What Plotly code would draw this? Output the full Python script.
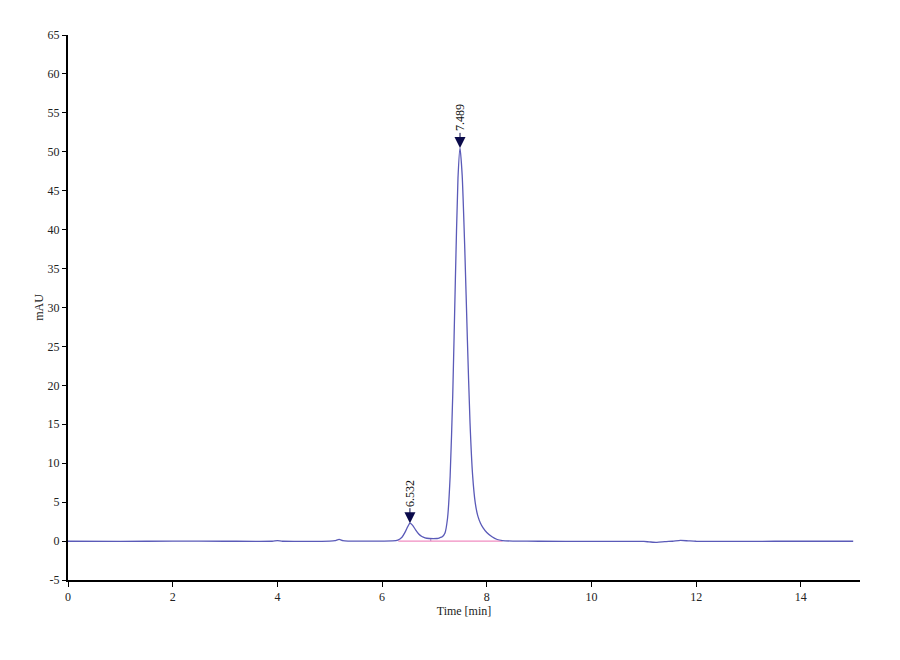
import plotly.graph_objects as go

# Chromatogram trace (time in min, absorbance in mAU)
time_min = [0.0, 1.0, 2.0, 3.0, 3.9, 4.0, 4.1, 5.0, 5.1, 5.18, 5.25, 5.35, 6.0, 6.2,
            6.30, 6.38, 6.44, 6.49, 6.532, 6.58, 6.64, 6.70, 6.76, 6.82, 6.90, 6.98,
            7.05, 7.10, 7.15, 7.20, 7.25, 7.30, 7.35, 7.40, 7.45, 7.489, 7.53, 7.58,
            7.63, 7.68, 7.73, 7.78, 7.83, 7.88, 7.93, 8.00, 8.10, 8.20, 8.30, 8.50,
            9.0, 10.0, 11.0, 11.1, 11.25, 11.4, 11.55, 11.7, 11.85, 12.0, 13.0, 14.0, 15.0]
absorbance = [-0.02, -0.03, -0.01, -0.02, -0.02, 0.05, -0.02, 0.0, 0.05, 0.22, 0.06, 0.0, 0.0, 0.02,
              0.12, 0.5, 1.15, 1.85, 2.3, 2.05, 1.45, 0.9, 0.58, 0.42, 0.33, 0.31,
              0.33, 0.42, 0.55, 1.0, 2.9, 8.3, 18.8, 33.5, 46.6, 50.5, 47.0, 37.5,
              25.8, 15.2, 8.4, 4.9, 3.2, 2.3, 1.7, 1.1, 0.55, 0.2, 0.06, 0.0,
              -0.02, -0.03, -0.05, -0.1, -0.17, -0.08, -0.02, 0.08, 0.03, -0.02, -0.03, -0.02, -0.02]

# Integration baseline and valley drop mark
baseline_x = [6.31, 8.30]
baseline_y = [0.0, 0.0]
valley_x = [6.93, 6.93]
valley_y = [0.0, 0.33]

# Labelled peaks
peak_times = [6.532, 7.489]
peak_heights = [2.3, 50.5]
peak_labels = ["6.532", "7.489"]

# Axis ticks
x_tick_vals = [0, 2, 4, 6, 8, 10, 12, 14]
x_tick_text = ["0", "2", "4", "6", "8", "10", "12", "14"]
y_tick_vals = [-5, 0, 5, 10, 15, 20, 25, 30, 35, 40, 45, 50, 55, 60, 65]
y_tick_text = ["-5", "0", "5", "10", "15", "20", "25", "30", "35", "40", "45", "50", "55", "60", "65"]

fig = go.Figure()
fig.add_trace(go.Scatter(x=baseline_x, y=baseline_y, mode="lines",
                         line=dict(color="#f08cc0", width=1.2), hoverinfo="skip"))
fig.add_trace(go.Scatter(x=valley_x, y=valley_y, mode="lines",
                         line=dict(color="#c080c0", width=1), hoverinfo="skip"))
fig.add_trace(go.Scatter(x=time_min, y=absorbance, mode="lines",
                         line=dict(color="#5a5ab8", width=1.3, shape="spline", smoothing=0.6)))

for px, py, lab in zip(peak_times, peak_heights, peak_labels):
    fig.add_annotation(x=px, y=py, text=lab, textangle=-90, showarrow=True,
                       arrowhead=2, arrowsize=2.2, arrowwidth=1, arrowcolor="#0a0a4a",
                       standoff=0, ax=0, ay=-30,
                       font=dict(family="Liberation Serif", size=12, color="#111"))

fig.update_layout(
    width=900, height=660,
    paper_bgcolor="white", plot_bgcolor="white",
    showlegend=False,
    margin=dict(l=60, r=48, t=27, b=88),
    font=dict(family="Liberation Serif", size=12, color="#222"),
)
fig.update_xaxes(range=[0, 15.13], tickvals=x_tick_vals, ticktext=x_tick_text,
                 showgrid=False, zeroline=False, showline=True, linecolor="black",
                 linewidth=2, ticks="outside", ticklen=5, tickcolor="black",
                 tickfont=dict(size=12, color="#222"),
                 title=dict(text="Time [min]", font=dict(size=12, color="#222"), standoff=3))
fig.update_yaxes(range=[-5, 65], tickvals=y_tick_vals, ticktext=y_tick_text,
                 showgrid=False, zeroline=False, showline=True, linecolor="black",
                 linewidth=2, ticks="outside", ticklen=4, tickcolor="black",
                 tickfont=dict(size=12, color="#222"),
                 title=dict(text="mAU", font=dict(size=12, color="#222"), standoff=1))

fig.write_html("out.html")
